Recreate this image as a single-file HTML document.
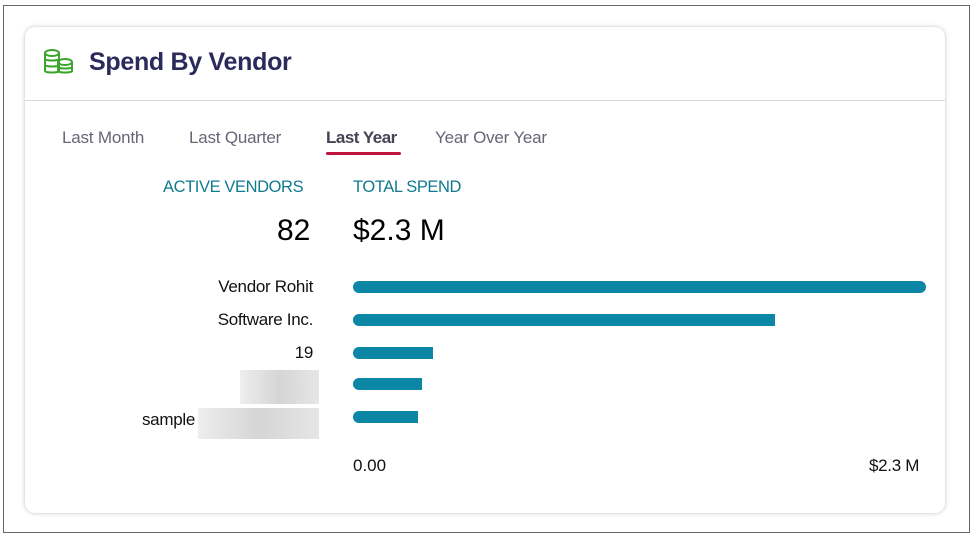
<!DOCTYPE html>
<html><head><style>
body{margin:0;width:975px;height:541px;background:#fff;position:relative;overflow:hidden;font-family:"Liberation Sans",sans-serif}
.edge{position:absolute;left:3px;top:5px;width:967px;height:528px;border:1.5px solid #666;box-sizing:border-box}
.card{position:absolute;left:25px;top:27px;width:920px;height:486px;background:#fff;border-radius:10px;box-shadow:0 0 4px rgba(0,0,0,.25)}
.abs{position:absolute;white-space:nowrap}
.title{left:64px;top:21px;font-size:25px;color:#2b2a5a;font-weight:bold;letter-spacing:-0.3px}
.hr{left:0;top:73px;width:920px;height:1px;background:#d8d8d8}
.tab{top:101px;font-size:17px;color:#666677;letter-spacing:-0.2px}
.lab{font-size:16.5px;color:#117a90;letter-spacing:-0.4px}
.bar{position:absolute;left:328px;height:12px;background:#0b86a4;border-radius:6px 0 0 6px}
.vn{font-size:17px;color:#111;text-align:right;width:200px;letter-spacing:-0.3px}
.blur{position:absolute;background:linear-gradient(90deg,#eee,#d5d5d5,#e6e6e6)}
</style></head><body>
<div class="edge"></div>
<div class="card">
<svg class="abs" style="left:17px;top:22px" width="32" height="28" viewBox="0 0 32 28" fill="none" stroke="#3aa52b" stroke-width="2">
<ellipse cx="10" cy="4" rx="7" ry="3"/><path d="M3 4v18c0 2 14 2 14 0V4M3 10c0 2 14 2 14 0M3 16c0 2 14 2 14 0"/>
<ellipse cx="23" cy="13" rx="7" ry="3"/><path d="M16 13v9c0 2 14 2 14 0v-9M16 18c0 2 14 2 14 0"/>
</svg>
<div class="abs title">Spend By Vendor</div>
<div class="abs hr"></div>
<div class="abs tab" style="left:37px">Last Month</div>
<div class="abs tab" style="left:164px">Last Quarter</div>
<div class="abs tab" style="left:301px;color:#444455;font-weight:bold;letter-spacing:-0.5px">Last Year</div>
<div class="abs" style="left:301px;top:125px;width:75px;height:3px;background:#c0143c;border-radius:2px"></div>
<div class="abs tab" style="left:410px">Year Over Year</div>
<div class="abs lab" style="left:138px;top:151px">ACTIVE VENDORS</div>
<div class="abs lab" style="left:328px;top:151px">TOTAL SPEND</div>
<div class="abs" style="left:252px;top:187px;font-size:30px;color:#000">82</div>
<div class="abs" style="left:328px;top:187px;font-size:30px;color:#000">$2.3 M</div>
<div class="abs vn" style="left:88px;top:250px">Vendor Rohit</div>
<div class="abs vn" style="left:88px;top:283px">Software Inc.</div>
<div class="abs vn" style="left:88px;top:316px">19</div>
<div class="abs vn" style="left:-30px;top:383px;width:200px">sample</div>
<div class="blur" style="left:215px;top:343px;width:79px;height:34px"></div>
<div class="blur" style="left:173px;top:381px;width:121px;height:31px"></div>
<div class="bar" style="top:254px;width:573px;border-radius:6px"></div>
<div class="bar" style="top:287px;width:422px"></div>
<div class="bar" style="top:320px;width:80px"></div>
<div class="bar" style="top:351px;width:69px"></div>
<div class="bar" style="top:384px;width:65px"></div>
<div class="abs" style="left:328px;top:429px;font-size:17px;color:#111">0.00</div>
<div class="abs" style="left:844px;top:429px;font-size:17px;color:#111;letter-spacing:-0.3px">$2.3 M</div>
</div>
</body></html>
